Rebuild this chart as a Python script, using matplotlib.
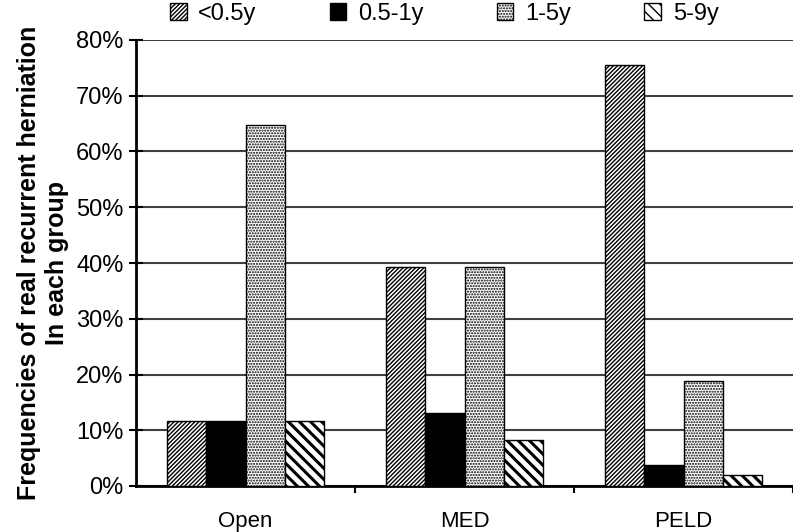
import numpy as np
import matplotlib
matplotlib.use("Agg")
import matplotlib.pyplot as plt
from matplotlib.ticker import PercentFormatter

plt.rcParams['font.family'] = ['Liberation Sans', 'DejaVu Sans']

groups = ["Open", "MED", "PELD"]
series = ["<0.5y", "0.5-1y", "1-5y", "5-9y"]
lt_half = [0.117, 0.393, 0.755]
half_one = [0.117, 0.131, 0.038]
one_five = [0.647, 0.393, 0.189]
five_nine = [0.117, 0.082, 0.019]

values = [lt_half, half_one, one_five, five_nine]
# fill, hatch, hatch line width
styles = [("white", "////////", 1.0), ("black", None, 1.0),
          ("white", "......", 1.0), ("white", "\\\\\\", 2.2)]

fig = plt.figure(figsize=(7.93, 5.32), dpi=100)
ax = fig.add_axes([136/793, 46/532, (793-136)/793, 446/532])

x = np.arange(len(groups))
w = 0.18
for i, (vals, (fc, hatch, hlw)) in enumerate(zip(values, styles)):
    with plt.rc_context({"hatch.linewidth": hlw}):
        ax.bar(x + (i - 1.5) * w, vals, w, color=fc, edgecolor="black",
               linewidth=1.0, hatch=hatch, label=series[i], zorder=3)

ax.set_xlim(-0.5, 2.5)
ax.set_ylim(0, 0.8)
ax.set_yticks(np.arange(0, 0.81, 0.1))
ax.yaxis.set_major_formatter(PercentFormatter(1.0, decimals=0))
ax.grid(axis="y", color="#404040", linewidth=1.5, zorder=0)
ax.set_axisbelow(True)

ax.set_xticks(x)
ax.set_xticklabels(groups)
ax.set_xticks([0.5, 1.5, 2.5], minor=True)
ax.tick_params(axis="x", which="major", length=0, pad=18, labelsize=16)
ax.tick_params(axis="x", which="minor", direction="out", length=5, width=1.5)
ax.tick_params(axis="y", direction="inout", length=10, width=1.5, labelsize=17, pad=4)

for s in ["top", "right"]:
    ax.spines[s].set_visible(False)
ax.spines["left"].set_linewidth(2)
ax.spines["bottom"].set_linewidth(2)

ax.set_ylabel("Frequencies of real recurrent herniation\nIn each group",
              fontsize=18, fontweight="bold", labelpad=5)

fig.legend(loc="upper left", bbox_to_anchor=(170/793, 0.995), ncol=4, frameon=False,
           fontsize=17, handlelength=0.7, handleheight=0.7, handletextpad=0.5,
           columnspacing=3.1, borderaxespad=0.0, borderpad=0.0)

fig.savefig("out.png", dpi=100)
